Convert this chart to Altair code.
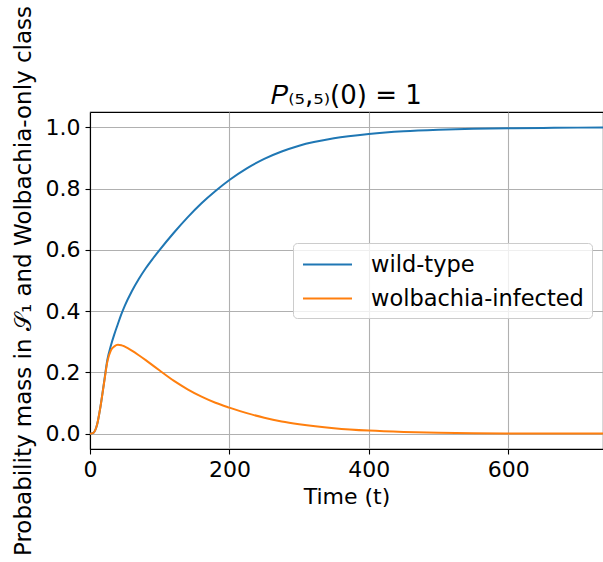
import altair as alt
import pandas as pd

t_vals = [0, 5, 10, 15, 20, 25, 30, 35, 40, 45, 50, 60, 70, 80, 90, 100, 120, 140,
          160, 180, 200, 225, 250, 275, 300, 350, 400, 450, 500, 550, 600, 650, 700, 750]
wild_type = [0.0, 0.003, 0.028, 0.088, 0.165, 0.242, 0.288, 0.325, 0.358, 0.39, 0.418,
             0.465, 0.505, 0.54, 0.571, 0.6, 0.655, 0.706, 0.752, 0.792, 0.828, 0.866,
             0.897, 0.921, 0.94, 0.964, 0.978, 0.987, 0.992, 0.995, 0.997, 0.998, 0.999,
             0.9995]
wolbachia = [0.0, 0.003, 0.028, 0.088, 0.163, 0.236, 0.272, 0.285, 0.29, 0.289, 0.284,
             0.271, 0.256, 0.24, 0.223, 0.206, 0.173, 0.145, 0.121, 0.101, 0.085, 0.067,
             0.052, 0.04, 0.031, 0.018, 0.01, 0.0055, 0.003, 0.0016, 0.0009, 0.0005,
             0.0003, 0.0002]
series_names = ["wild-type", "wolbachia-infected"]
series_colors = ["#1f77b4", "#ff7f0e"]

rows = []
for name, vals in zip(series_names, [wild_type, wolbachia]):
    for t, v in zip(t_vals, vals):
        rows.append({"t": t, "value": v, "series": name})
df = pd.DataFrame(rows)

FONT = "DejaVu Sans"

chart = alt.Chart(df).mark_line(strokeWidth=2, clip=True, interpolate="monotone").encode(
    x=alt.X("t:Q", title="Time (t)",
            scale=alt.Scale(domain=[0, 736], nice=False, zero=False),
            axis=alt.Axis(values=[0, 200, 400, 600], format="d", titlePadding=6,
                          labelFlush=False)),
    y=alt.Y("value:Q", title="Probability mass in 𝒮₁ and Wolbachia-only class",
            scale=alt.Scale(domain=[-0.05, 1.05], nice=False, zero=False),
            axis=alt.Axis(values=[0, 0.2, 0.4, 0.6, 0.8, 1.0], format=".1f",
                          titlePadding=10, titleLimit=1000, titleFontSize=23,
                          labelFlush=False)),
    color=alt.Color("series:N", title=None,
                    scale=alt.Scale(domain=series_names, range=series_colors),
                    legend=alt.Legend(orient="none", legendX=203, legendY=131,
                                      symbolType="M-0.92,0H3.0", symbolSize=625,
                                      symbolStrokeWidth=2, symbolFillColor="transparent",
                                      labelFontSize=22.5, labelFont=FONT, labelColor="black",
                                      labelLimit=500,
                                      labelOffset=43, padding=8, rowPadding=9,
                                      fillColor="rgba(255,255,255,0.8)", strokeColor="#cccccc",
                                      cornerRadius=4)),
).properties(
    width=513, height=337,
    background="white",
    title=alt.TitleParams("𝑃₍₅,₅₎(0) = 1", fontSize=26, font=FONT, fontWeight="normal",
                          color="black", offset=3.5, anchor="middle", frame="group",
                          dy=107),
    autosize=alt.AutoSizeParams(type="none"),
    padding={"left": 90, "top": 112, "right": 0, "bottom": 113},
).configure_axis(
    labelFont=FONT, titleFont=FONT, labelFontSize=22, titleFontSize=22,
    labelColor="black", titleColor="black", titleFontWeight="normal",
    domainColor="black", domainWidth=1.1, tickColor="black", tickWidth=1.1, tickSize=5,
    labelPadding=5, gridColor="#b0b0b0", gridWidth=1.1,
).configure_view(stroke="black", strokeWidth=1.1)

chart.save("out.html", embed_options={"renderer": "svg", "actions": False})
